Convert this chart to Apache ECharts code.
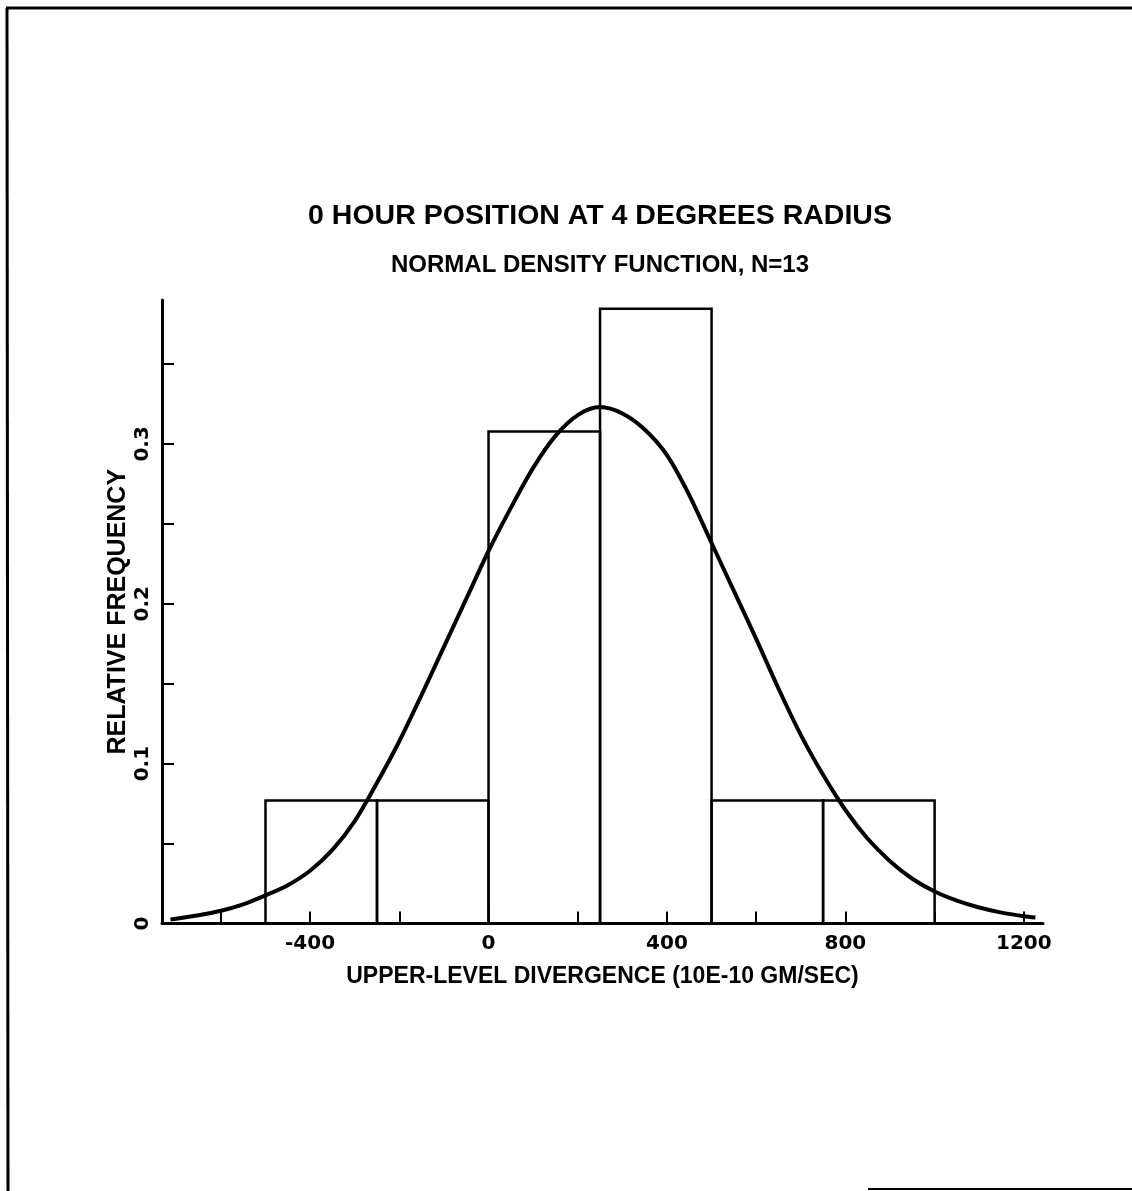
<!DOCTYPE html>
<html>
<head>
<meta charset="utf-8">
<script src="https://cdn.jsdelivr.net/npm/echarts@6/dist/echarts.min.js"></script>
<style>
html,body{margin:0;padding:0;background:#fff;}
#chart{width:1132px;height:1191px;}
</style>
</head>
<body>
<div id="chart"></div>
<script>
// Histogram bins (upper-level divergence, 10E-10 GM/SEC)
const binStart = [-500, -250, 0, 250, 500, 750];
const binEnd = [-250, 0, 250, 500, 750, 1000];
const relFreq = [0.0769, 0.0769, 0.3077, 0.3846, 0.0769, 0.0769];

// Normal density curve
const curveX = [-713, -650, -600, -550, -500, -450, -400, -350, -300, -250, -200, -150, -100, -50, 0, 50, 100, 150, 200, 250, 300, 350, 400, 450, 500, 550, 600, 650, 700, 750, 800, 850, 900, 950, 1000, 1050, 1100, 1150, 1200, 1226];
const curveY = [0.0025, 0.0052, 0.0080, 0.0120, 0.0176, 0.0240, 0.0330, 0.0460, 0.0640, 0.0880, 0.1140, 0.1430, 0.1730, 0.2030, 0.2330, 0.2600, 0.2850, 0.3050, 0.3180, 0.3230, 0.3190, 0.3090, 0.2930, 0.2680, 0.2380, 0.2080, 0.1780, 0.1470, 0.1180, 0.0930, 0.0710, 0.0530, 0.0390, 0.0280, 0.0200, 0.0143, 0.0100, 0.0068, 0.0046, 0.0038];

// Axis ticks and labels
const xTicks = [-600, -400, -200, 0, 200, 400, 600, 800, 1000, 1200];
const xLabels = [-400, 0, 400, 800, 1200];
const yTicks = [0.05, 0.1, 0.15, 0.2, 0.25, 0.3, 0.35];
const yLabels = [0, 0.1, 0.2, 0.3];

const titleText = '0 HOUR POSITION AT 4 DEGREES RADIUS';
const subtitleText = 'NORMAL DENSITY FUNCTION, N=13';
const xName = 'UPPER-LEVEL DIVERGENCE (10E-10 GM/SEC)';
const yName = 'RELATIVE FREQUENCY';

const FONT = 'Liberation Sans';
const NUMFONT = 'DejaVu Sans';
const chart = echarts.init(document.getElementById('chart'), null, {renderer: 'canvas'});

const histData = binStart.map((s, i) => [s, binEnd[i], relFreq[i]]);
const curveData = curveX.map((x, i) => [x, curveY[i]]);

chart.setOption({
  backgroundColor: '#fff',
  animation: false,
  title: [
    {text: titleText, left: 595, top: 197, textAlign: 'center',
     textStyle: {fontFamily: FONT, fontSize: 28.5, fontWeight: 'bold', color: '#000'}},
    {text: subtitleText, left: 595, top: 248, textAlign: 'center',
     textStyle: {fontFamily: FONT, fontSize: 24, fontWeight: 'bold', color: '#000'}}
  ],
  grid: {left: 162, top: 300, width: 881, height: 623.5, containLabel: false},
  xAxis: {
    type: 'value', min: -732, max: 1243,
    name: xName, nameLocation: 'middle', nameGap: 42,
    nameTextStyle: {fontFamily: FONT, fontSize: 23, fontWeight: 'bold', color: '#000'},
    axisLine: {show: true, onZero: false, lineStyle: {color: '#000', width: 3}},
    axisTick: {show: true, inside: true, length: 12, customValues: xTicks, lineStyle: {color: '#000', width: 2}},
    axisLabel: {show: true, customValues: xLabels, margin: 10,
      fontFamily: NUMFONT, fontSize: 20, fontWeight: 'bold', color: '#000',
      formatter: v => String(v)},
    splitLine: {show: false}
  },
  yAxis: {
    type: 'value', min: 0, max: 0.39,
    name: yName, nameLocation: 'middle', nameGap: 44, nameRotate: 90,
    nameMoveOverlap: false,
    nameTextStyle: {fontFamily: FONT, fontSize: 25, fontWeight: 'bold', color: '#000',
      verticalAlign: 'middle'},
    axisLine: {show: true, onZero: false, lineStyle: {color: '#000', width: 3}},
    axisTick: {show: true, inside: true, length: 12, customValues: yTicks, lineStyle: {color: '#000', width: 2}},
    axisLabel: {show: true, customValues: yLabels, rotate: 90, margin: 9,
      fontFamily: NUMFONT, fontSize: 20, fontWeight: 'bold', color: '#000',
      formatter: v => String(v)},
    splitLine: {show: false}
  },
  series: [
    {
      type: 'custom',
      name: 'histogram',
      clip: false,
      encode: {x: [0, 1], y: 2},
      data: histData,
      renderItem: function (params, api) {
        const p0 = api.coord([api.value(0), 0]);
        const p1 = api.coord([api.value(1), api.value(2)]);
        return {
          type: 'rect',
          shape: {x: p0[0], y: p1[1], width: p1[0] - p0[0], height: p0[1] - p1[1]},
          style: {fill: 'none', stroke: '#000', lineWidth: 2.5}
        };
      },
      z: 2
    },
    {
      type: 'line',
      name: 'normal density',
      data: curveData,
      smooth: 0.3,
      showSymbol: false,
      symbol: 'none',
      lineStyle: {color: '#000', width: 4},
      z: 3
    }
  ],
  graphic: [
    {type: 'line', shape: {x1: 6, y1: 8, x2: 1132, y2: 8}, style: {stroke: '#000', lineWidth: 3}},
    {type: 'line', shape: {x1: 7, y1: 8, x2: 8, y2: 1191}, style: {stroke: '#000', lineWidth: 3}},
    {type: 'line', shape: {x1: 868, y1: 1189, x2: 1132, y2: 1189}, style: {stroke: '#000', lineWidth: 2}}
  ]
});
</script>
</body>
</html>
